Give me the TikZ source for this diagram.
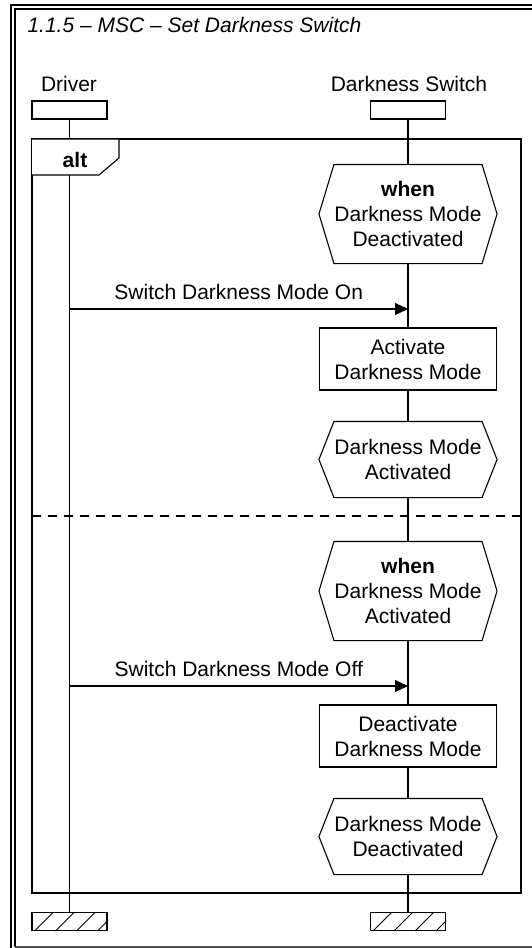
\documentclass[tikz,border=0pt]{standalone}
\usepackage{fontspec}
\setmainfont{Liberation Sans}
\usetikzlibrary{arrows.meta,positioning}

\begin{document}
\begin{tikzpicture}[x=1pt,y=-1pt,line width=1.1pt,
lbl/.style={
inner sep=0pt,
anchor=base,
font=\fontsize{21}{25}\selectfont,
},
instbox/.style={
draw,
fill=white,
minimum width=75pt,
minimum height=18pt,
inner sep=0pt,
},
actbox/.style={
draw,
fill=white,
minimum width=177pt,
minimum height=62pt,
inner sep=0pt,
align=center,
font=\fontsize{21}{25}\selectfont,
},
condbox/.style={
minimum width=177pt,
inner sep=0pt,
align=center,
font=\fontsize{21}{25}\selectfont,
},
msg/.style={-{Triangle[length=13pt,width=12pt]}},
]
\useasboundingbox (0,0) rectangle (531,948);

% outer frame, cut by the page
\draw[line width=1.8pt] (11,952) |- (540,5);
\draw[line width=1.2pt] (15,947) |- (540,9);
\draw[line width=1.2pt, black!70] (15,947) -- (540,947);
\node[lbl, anchor=base west, font=\fontsize{21}{25}\selectfont\itshape] (title) at (27,32) {1.1.5 -- MSC -- Set Darkness Switch};

% instances
\node[lbl] (drvlbl) at (69,91) {Driver};
\node[lbl] (swlbl)  at (409,91) {Darkness Switch};
\node[instbox] (drvhead) at (69.5,110) {};
\node[instbox] (swhead)  at (408,110) {};
\node[instbox] (drvend)  at (69.5,921.5) {};
\node[instbox] (swend)   at (408,921.5) {};

\draw (drvhead.south) -- (drvend.north);

% alt fragment
\draw (32,139) rectangle (521,893);
\draw[fill=white] (32,139) -| (119,158) -- (99,175) -- (32,175);
\node[lbl, font=\fontsize{21}{25}\selectfont\bfseries] (alttag) at (75,167) {alt};
\draw[dash pattern=on 9pt off 7pt] (32,516) -- (521,516);

% states and actions
\node[condbox, minimum height=98pt] (h1) at (408,214) {\textbf{when}\\Darkness Mode\\Deactivated};
\node[actbox] (act) at (408,359) {Activate\\Darkness Mode};
\node[condbox, minimum height=75pt] (h2) at (408,459.5) {Darkness Mode\\Activated};
\node[condbox, minimum height=98pt] (h3) at (408,591) {\textbf{when}\\Darkness Mode\\Activated};
\node[actbox] (deact) at (408,736) {Deactivate\\Darkness Mode};
\node[condbox, minimum height=75pt] (h4) at (408,836.5) {Darkness Mode\\Deactivated};

\foreach \hx in {h1,h2,h3,h4}
  \draw ([xshift=15pt]\hx.north west) -- ([xshift=-15pt]\hx.north east) -- (\hx.east)
        -- ([xshift=-15pt]\hx.south east) -- ([xshift=15pt]\hx.south west) -- (\hx.west) -- cycle;

\foreach \a/\b in {swhead/h1,h1/act,act/h2,h2/h3,h3/deact,deact/h4,h4/swend}
  \draw (\a.south) -- (\b.north);

% stopped instances
\foreach \e in {drvend,swend}
  {
  \begin{scope}
  \clip (\e.south west) rectangle (\e.north east);
  \foreach \k in {3,24,45,66}
    \draw[line width=0.8pt] ([xshift=\k pt]\e.south west) -- ++(19,-19);
  \end{scope}
  }

% messages
\coordinate (on1) at (69.5,309);
\coordinate (on2) at (408,309);
\coordinate (off1) at (69.5,686);
\coordinate (off2) at (408,686);
\draw[msg] (on1) -- node[lbl, midway, yshift=10pt] {Switch Darkness Mode On} (on2);
\draw[msg] (off1) -- node[lbl, midway, yshift=10pt] {Switch Darkness Mode Off} (off2);
\end{tikzpicture}
\end{document}
